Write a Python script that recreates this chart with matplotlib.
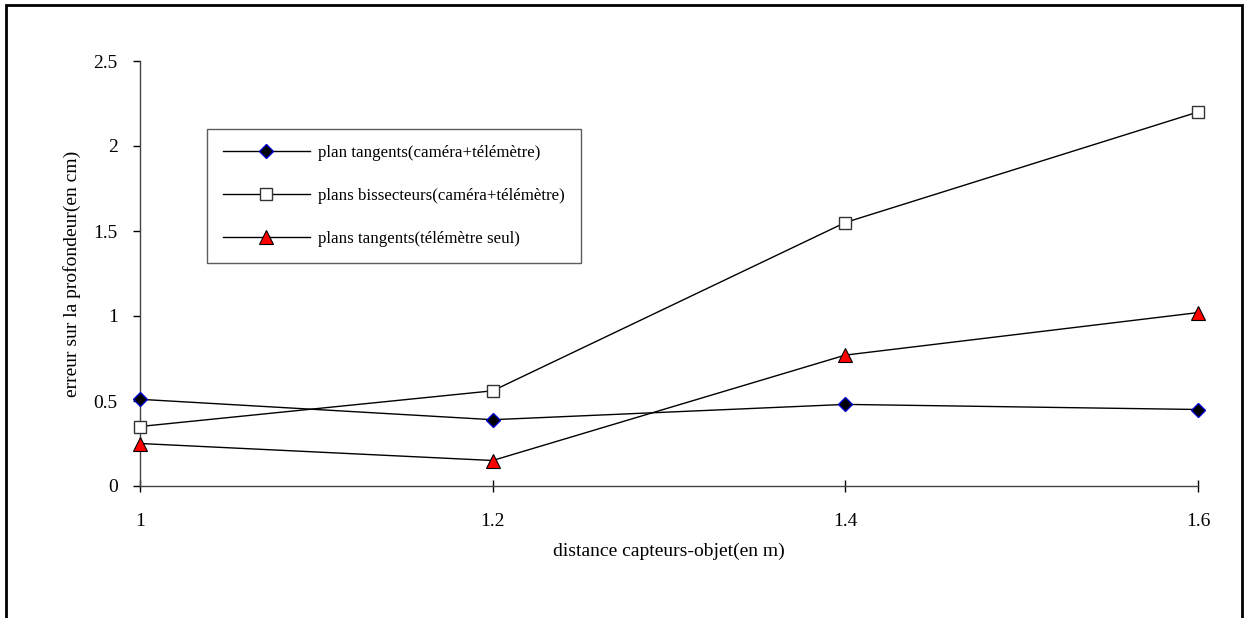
import matplotlib.pyplot as plt
from matplotlib.patches import Rectangle

plt.rcParams['font.family'] = ['Liberation Serif', 'DejaVu Serif']

distance = [1.0, 1.2, 1.4, 1.6]
tangents_cam = [0.51, 0.39, 0.48, 0.45]
bissecteurs_cam = [0.35, 0.56, 1.55, 2.2]
tangents_tele = [0.25, 0.15, 0.77, 1.02]

x_ticks = [1.0, 1.2, 1.4, 1.6]
x_ticklabels = ['1', '1.2', '1.4', '1.6']
y_ticks = [0, 0.5, 1, 1.5, 2, 2.5]
y_ticklabels = ['0', '0.5', '1', '1.5', '2', '2.5']

fig = plt.figure(figsize=(12.45, 6.18), dpi=100)
ax = fig.add_axes([140 / 1245, 1 - 486 / 618, (1198 - 140) / 1245, (486 - 61) / 618])

ax.plot(distance, tangents_cam, color='black', lw=1, marker='D', ms=7.5,
        mfc='black', mec='#0000cc', mew=1, label='plan tangents(caméra+télémètre)', clip_on=False, zorder=3)
ax.plot(distance, bissecteurs_cam, color='black', lw=1, marker='s', ms=8.5,
        mfc='white', mec='#333333', mew=1, label='plans bissecteurs(caméra+télémètre)', clip_on=False, zorder=3)
ax.plot(distance, tangents_tele, color='black', lw=1, marker='^', ms=10,
        mfc='red', mec='black', mew=0.8, label='plans tangents(télémètre seul)', clip_on=False, zorder=3)

ax.set_xlim(1.0, 1.6)
ax.set_ylim(0, 2.5)
ax.set_xticks(x_ticks)
ax.set_xticklabels(x_ticklabels)
ax.set_yticks(y_ticks)
ax.set_yticklabels(y_ticklabels)
ax.tick_params(axis='x', direction='inout', length=9, width=1, labelsize=14, pad=15)
ax.tick_params(axis='y', direction='out', length=5, width=1, labelsize=14, pad=11)

for s in ['top', 'right']:
    ax.spines[s].set_visible(False)
for s in ['left', 'bottom']:
    ax.spines[s].set_color('#444444')
    ax.spines[s].set_linewidth(1)

ax.set_xlabel('distance capteurs-objet(en m)', fontsize=14, labelpad=9)
ax.set_ylabel('erreur sur la profondeur(en cm)', fontsize=14, labelpad=9)

leg = ax.legend(loc='upper left', bbox_to_anchor=(207 / 1245, 1 - 129 / 618),
                bbox_transform=fig.transFigure, fancybox=False, edgecolor='#333333',
                fontsize=12.2, handlelength=5.1, labelspacing=1.6, borderpad=0.95,
                handletextpad=0.5, borderaxespad=0)
leg.get_frame().set_linewidth(1)

fig.add_artist(Rectangle((6 / 1245, -0.05), (1242 - 6) / 1245, 1.05 - 5 / 618,
                         transform=fig.transFigure, fill=False, lw=2, edgecolor='black'))

fig.savefig('out.png', dpi=100)
